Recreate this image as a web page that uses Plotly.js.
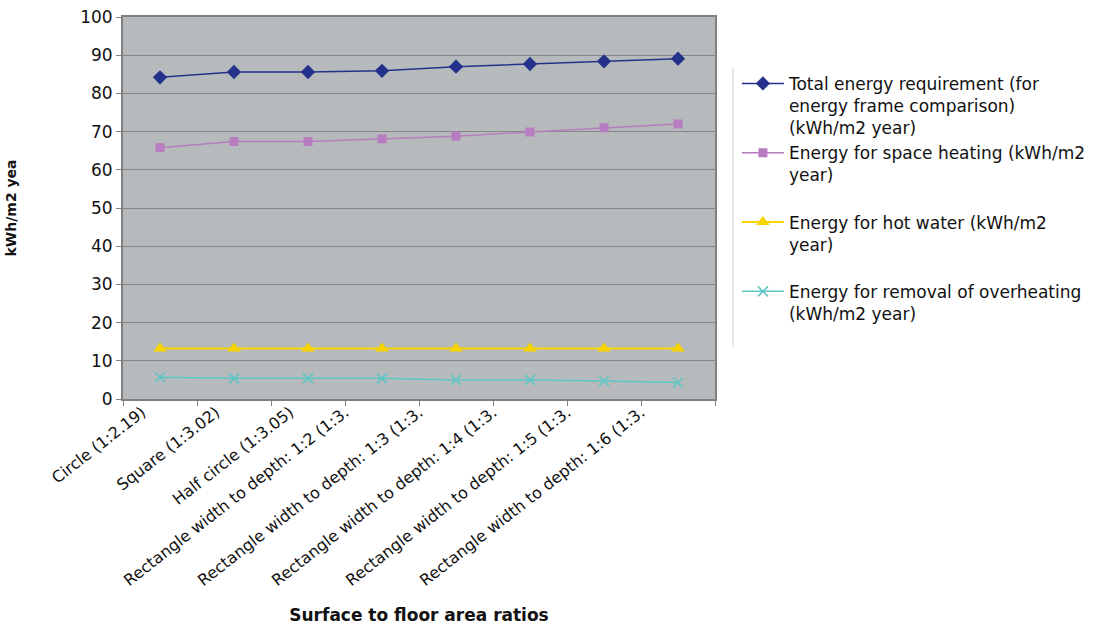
<!DOCTYPE html>
<html>
<head>
<meta charset="utf-8">
<script src="https://cdn.plot.ly/plotly-3.0.1.min.js"></script>
<style>html,body{margin:0;padding:0;background:#fff;}#chart{width:1109px;height:626px;}</style>
</head>
<body>
<div id="chart"></div>
<script>
const categories = [
  "Circle (1:2.19)",
  "Square (1:3.02)",
  "Half circle (1:3.05)",
  "Rectangle width to depth: 1:2 (1:3.",
  "Rectangle width to depth: 1:3 (1:3.",
  "Rectangle width to depth: 1:4 (1:3.",
  "Rectangle width to depth: 1:5 (1:3.",
  "Rectangle width to depth: 1:6 (1:3."
];
const totalEnergy   = [84.2, 85.6, 85.6, 85.9, 87.0, 87.7, 88.4, 89.1];
const spaceHeating  = [65.8, 67.4, 67.4, 68.1, 68.8, 69.9, 71.0, 72.0];
const hotWater      = [13.2, 13.2, 13.2, 13.2, 13.2, 13.2, 13.2, 13.2];
const overheating   = [5.7, 5.4, 5.4, 5.4, 5.0, 5.0, 4.7, 4.3];
const seriesNames = [
  "Total energy requirement (for<br>energy frame comparison)<br>(kWh/m2 year)",
  "Energy for space heating (kWh/m2<br>year)<br> ",
  "Energy for hot water (kWh/m2<br>year)<br> ",
  "Energy for removal of overheating<br>(kWh/m2 year)"
];
const yTitle = "kWh/m2 yea";
const xTitle = "Surface to floor area ratios";

const FONT = "DejaVu Sans, Liberation Sans, Arial, sans-serif";
const idx = categories.map((c, i) => i);
const shortIdx = idx.slice(0, 3);
const longIdx = idx.slice(3);

const traces = [
  {x: categories, y: totalEnergy, name: seriesNames[0], mode: "lines+markers",
   line: {color: "#24318a", width: 1.5},
   marker: {symbol: "diamond", size: 11, color: "#24318a"}},
  {x: categories, y: spaceHeating, name: seriesNames[1], mode: "lines+markers",
   line: {color: "#b87dc0", width: 1.5},
   marker: {symbol: "square", size: 9, color: "#b87dc0"}},
  {x: categories, y: hotWater, name: seriesNames[2], mode: "lines+markers",
   line: {color: "#f7d300", width: 2},
   marker: {symbol: "triangle-up", size: 12, color: "#f7d300"}},
  {x: categories, y: overheating, name: seriesNames[3], mode: "lines+markers",
   line: {color: "#5cc6c4", width: 1.5},
   marker: {symbol: "x-thin", size: 10, color: "#5cc6c4", line: {color: "#5cc6c4", width: 1.5}}},
  // empty traces so the two label-only overlay axes get drawn
  {x: [], y: [], xaxis: "x2", yaxis: "y", mode: "markers", showlegend: false, hoverinfo: "skip"},
  {x: [], y: [], xaxis: "x3", yaxis: "y", mode: "markers", showlegend: false, hoverinfo: "skip"}
];

const labelAxis = (vals, shift) => ({
  overlaying: "x", anchor: "y", side: "bottom",
  type: "linear",
  range: [-0.5, categories.length - 0.5],
  tickmode: "array", tickvals: vals, ticktext: vals.map(i => categories[i]),
  ticks: "", showgrid: false, showline: false, zeroline: false,
  tickangle: -38, ticklabelshift: shift, ticklabelstandoff: 0,
  tickfont: {family: FONT, size: 16, color: "#111111"},
  automargin: false, fixedrange: true
});

const layout = {
  width: 1109, height: 626,
  margin: {l: 123, r: 394, t: 17, b: 227, pad: 0},
  paper_bgcolor: "#ffffff",
  plot_bgcolor: "#b6babd",
  font: {family: FONT, color: "#111111", size: 16},
  showlegend: true,
  legend: {
    x: 1.037, y: 0.872, xanchor: "left", yanchor: "top",
    font: {family: FONT, size: 17, color: "#111111"},
    bgcolor: "rgba(0,0,0,0)", tracegroupgap: 0,
    valign: "top", itemwidth: 42
  },
  xaxis: {
    type: "category",
    range: [-0.5, categories.length - 0.5],
    tickson: "boundaries",
    ticks: "outside", ticklen: 5, tickcolor: "#808080", tickwidth: 1,
    showline: true, linecolor: "#808080", linewidth: 2, mirror: true,
    showgrid: false, zeroline: false,
    showticklabels: false,
    automargin: false
  },
  xaxis2: labelAxis(shortIdx, -18),
  xaxis3: Object.assign(labelAxis(longIdx, -37), {
    title: {text: xTitle, font: {family: FONT, size: 17, color: "#111111", weight: "bold"}, standoff: 20}
  }),
  yaxis: {
    range: [0, 100], dtick: 10,
    ticks: "outside", ticklen: 5, tickcolor: "#808080", tickwidth: 1,
    showline: true, linecolor: "#808080", linewidth: 2, mirror: true,
    showgrid: true, gridcolor: "#868686", gridwidth: 1,
    zeroline: false,
    tickfont: {family: FONT, size: 17, color: "#111111"},
    automargin: false,
    title: {text: yTitle, font: {family: FONT, size: 14, color: "#111111", weight: "bold"}, standoff: 60}
  },
  shapes: [
    {type: "line", xref: "paper", yref: "paper",
     x0: (733-123)/592, x1: (733-123)/592, y0: (399-68)/382, y1: (399-347)/382,
     line: {color: "#cfcfcf", width: 1}}
  ]
};

Plotly.newPlot("chart", traces, layout, {displayModeBar: false, staticPlot: true});
</script>
</body>
</html>
